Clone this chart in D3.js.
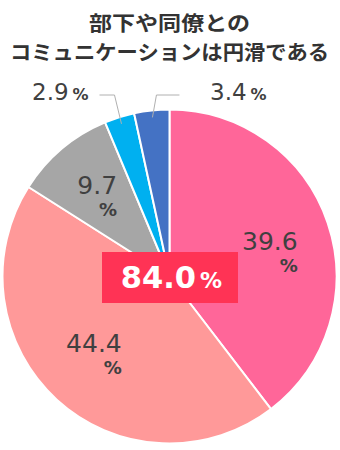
<!DOCTYPE html>
<html><head><meta charset="utf-8">
<script src="https://cdn.jsdelivr.net/npm/d3@7"></script>
<style>
html,body{margin:0;padding:0;background:#fff;}
svg{display:block;}
</style></head>
<body>
<script>
const titleLines = ["部下や同僚との", "コミュニケーションは円滑である"];
const categories = ["A", "B", "C", "D", "E"];
const values = [39.6, 44.4, 9.7, 2.9, 3.4];
const colors = ["#FF6699", "#FF9999", "#A6A6A6", "#00B0F0", "#4472C4"];
const totalLabel = "84.0";

// layout
const W = 340, H = 450;
const cx = 169.5, cy = 276.5, R = 167;
const titleWidths = [161, 319];
const labelNudge = [[0, -1.5], [-4, -12], [-4, -10]];

const svg = d3.select("body").append("svg").attr("width", W).attr("height", H);

const tfont = "'Noto Sans CJK JP','Noto Sans',sans-serif";
const nfont = "'DejaVu Sans','Noto Sans',sans-serif";

svg.selectAll("text.title").data(titleLines).join("text")
  .attr("class", "title")
  .attr("x", 169.5).attr("y", (d, i) => 30.5 + i * 29.8)
  .attr("text-anchor", "middle").attr("font-family", tfont)
  .attr("font-size", 20.5).attr("font-weight", 700).attr("fill", "#333")
  .attr("textLength", (d, i) => titleWidths[i]).attr("lengthAdjust", "spacingAndGlyphs")
  .text(d => d);

const data = categories.map((c, i) => ({ c, v: values[i], col: colors[i] }));
const pie = d3.pie().sort(null).value(d => d.v);
const arcs = pie(data);
const arc = d3.arc().innerRadius(0).outerRadius(R);
const g = svg.append("g").attr("transform", `translate(${cx},${cy})`);

g.selectAll("path").data(arcs).join("path")
  .attr("d", arc).attr("fill", d => d.data.col)
  .attr("stroke", "#fff").attr("stroke-width", 2).attr("stroke-linejoin", "round");

const mid = d => (d.startAngle + d.endAngle) / 2;
const pt = (a, r) => [r * Math.sin(a), -r * Math.cos(a)];

// inside labels
const inside = arcs.filter(d => d.data.v > 5);
const labelR = 106;
inside.forEach((d, i) => {
  let [x, y] = pt(mid(d), labelR);
  x += labelNudge[i][0]; y += labelNudge[i][1];
  const t = g.append("text").attr("x", x).attr("y", y + 9)
    .attr("text-anchor", "middle").attr("font-family", nfont)
    .attr("font-size", 25).attr("fill", "#404040").text(d.data.v.toFixed(1));
  const w = t.node().getComputedTextLength();
  g.append("text").attr("x", x + w / 2).attr("y", y + 31)
    .attr("text-anchor", "end").attr("font-family", nfont)
    .attr("font-size", 18).attr("font-weight", 700).attr("fill", "#404040").text("%");
});

// outside labels for small slices
const outside = arcs.filter(d => d.data.v <= 5);
const labelY = -181.5;
outside.forEach(d => {
  const a = mid(d);
  const left = d.index === 3;
  const [x0, y0] = pt(a, 160);
  const ex = left ? x0 - 7 : x0 + 4;
  const hx = left ? ex - 15 : ex + 23;
  g.append("polyline")
    .attr("points", [[x0, y0], [ex, labelY], [hx, labelY]].map(p => p.join(",")).join(" "))
    .attr("fill", "none").attr("stroke", "#b0b0b0").attr("stroke-width", 1);
  const tx = left ? -137.5 : 40.5;
  const t = g.append("text").attr("x", tx).attr("y", -176.5)
    .attr("font-family", nfont).attr("font-size", 23).attr("fill", "#404040");
  t.append("tspan").text(d.data.v.toFixed(1));
  t.append("tspan").attr("dx", 4).attr("font-size", 16).attr("font-weight", 700).text("%");
});

// central box
const bw = 136, bh = 51;
svg.append("rect").attr("x", cx - bw / 2 + 0.5).attr("y", cy - bh / 2 + 1)
  .attr("width", bw).attr("height", bh).attr("fill", "#FF3355");
const bt = svg.append("text").attr("x", cx + 2).attr("y", cy + 11.5)
  .attr("text-anchor", "middle").attr("font-family", nfont).attr("fill", "#fff").attr("font-weight", 700);
bt.append("tspan").attr("font-size", 30.5).text(totalLabel);
bt.append("tspan").attr("dx", 4).attr("font-size", 22).text("%");
</script>
</body></html>
